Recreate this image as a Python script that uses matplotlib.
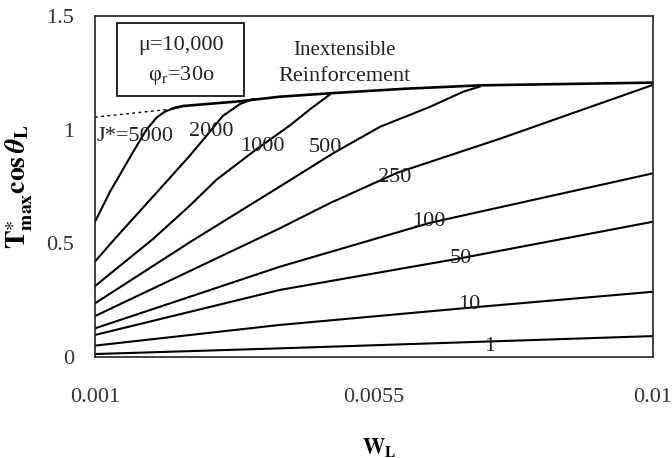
import matplotlib
matplotlib.use("Agg")
import matplotlib.pyplot as plt
from matplotlib.patches import Rectangle

plt.rcParams['font.family'] = ['Liberation Serif', 'DejaVu Serif']
plt.rcParams['mathtext.fontset'] = 'stix'

# Curves of T*max cos(theta_L) versus W_L for several stiffness values J*
x_5000 = [0.001, 0.00124, 0.00161, 0.00183, 0.00200, 0.00212, 0.00226, 0.00242]
y_5000 = [0.595, 0.726, 0.90, 1.00, 1.055, 1.078, 1.094, 1.104]

x_2000 = [0.001, 0.00132, 0.00200, 0.00253, 0.00280, 0.00306, 0.00334, 0.00355]
y_2000 = [0.42, 0.52, 0.725, 0.886, 0.974, 1.06, 1.113, 1.135]

x_1000 = [0.001, 0.00194, 0.00253, 0.00296, 0.00361, 0.00415, 0.00447, 0.00479]
y_1000 = [0.312, 0.52, 0.666, 0.78, 0.915, 1.02, 1.09, 1.155]

x_500 = [0.001, 0.00253, 0.00410, 0.00484, 0.00560, 0.00640, 0.00694, 0.00721]
y_500 = [0.236, 0.505, 0.77, 0.896, 1.013, 1.10, 1.167, 1.19]

x_250 = [0.001, 0.00398, 0.00479, 0.00587, 0.00753, 0.010]
y_250 = [0.18, 0.566, 0.677, 0.81, 0.96, 1.197]

x_100 = [0.001, 0.00253, 0.00398, 0.00640, 0.010]
y_100 = [0.126, 0.265, 0.397, 0.59, 0.808]

x_50 = [0.001, 0.00398, 0.00689, 0.010]
y_50 = [0.097, 0.295, 0.434, 0.595]

x_10 = [0.001, 0.00398, 0.00721, 0.010]
y_10 = [0.05, 0.141, 0.221, 0.287]

x_1 = [0.001, 0.00398, 0.00721, 0.010]
y_1 = [0.013, 0.038, 0.067, 0.092]

# Inextensible reinforcement envelope (dotted part, then solid)
x_inext_dot = [0.001, 0.00221]
y_inext_dot = [1.055, 1.09]
x_inext = [0.00226, 0.00242, 0.00334, 0.00398, 0.00479, 0.0060, 0.00721, 0.010]
y_inext = [1.094, 1.104, 1.125, 1.145, 1.16, 1.18, 1.195, 1.207]

curves = [(x_5000, y_5000), (x_2000, y_2000), (x_1000, y_1000), (x_500, y_500),
          (x_250, y_250), (x_100, y_100), (x_50, y_50), (x_10, y_10), (x_1, y_1)]

curve_labels = ["J*=5000", "2000", "1000", "500", "250", "100", "50", "10", "1"]
label_x = [0.00102, 0.00288, 0.00370, 0.00472, 0.00583, 0.00638, 0.00690, 0.00703, 0.00737]
label_y = [0.97, 0.99, 0.925, 0.92, 0.79, 0.595, 0.435, 0.229, 0.045]
label_ha = ["left", "center", "center", "center", "center", "center", "center", "center", "center"]

x_ticks = [0.001, 0.0055, 0.01]
x_tick_labels = ["0.001", "0.0055", "0.01"]
y_ticks = [0, 0.5, 1, 1.5]
y_tick_labels = ["0", "0.5", "1", "1.5"]

fig = plt.figure(figsize=(6.72, 4.58), dpi=100)
ax = fig.add_axes([95 / 672, 1 - 357 / 458, 558 / 672, 341 / 458])

lw = 1.5
for xs, ys in curves:
    ax.plot(xs, ys, color="black", lw=lw, solid_joinstyle="round")
ax.plot(x_inext, y_inext, color="black", lw=lw + 0.4, solid_joinstyle="round")
ax.plot(x_inext_dot, y_inext_dot, color="black", lw=1.0, linestyle=(0, (2, 2.5)))

text_color = "#222222"
for txt, lx, ly, ha in zip(curve_labels, label_x, label_y, label_ha):
    ax.text(lx, ly, txt, ha=ha, va="center", fontsize=16, color=text_color)

ax.text(0.00502, 1.35, "Inextensible", ha="center", va="center", fontsize=15, color=text_color)
ax.text(0.00502, 1.235, "Reinforcement", ha="center", va="center", fontsize=16, color=text_color)

# Parameter box
ax.add_patch(Rectangle((0.00136, 1.148), 0.00205, 0.322, fill=False,
                       edgecolor="black", lw=1.2))
ax.text(0.002385, 1.372, "μ=10,000", ha="center", va="center", fontsize=16, color=text_color)
ax.text(0.002385, 1.24, r"φ$_\mathrm{r}$=30o", ha="center", va="center", fontsize=16, color=text_color)

ax.set_xlim(0.001, 0.01)
ax.set_ylim(0, 1.5)
ax.set_xticks(x_ticks)
ax.set_xticklabels(x_tick_labels)
ax.set_yticks(y_ticks)
ax.set_yticklabels(y_tick_labels)
ax.tick_params(axis="x", length=0, pad=22, labelsize=16, labelcolor="#333333")
ax.tick_params(axis="y", length=0, pad=15, labelsize=16, labelcolor="#333333")
for sp in ax.spines.values():
    sp.set_linewidth(1.2)
    sp.set_color("#222222")

ax.set_xlabel(r"$\mathbf{W}_{\mathbf{L}}$", fontsize=16, va="center")
ax.xaxis.set_label_coords(0.51, -0.265)
ax.set_ylabel(r"$\mathbf{T}^{\ast}_{\mathbf{max}}\mathbf{cos}\,\boldsymbol{\theta}_{\mathbf{L}}$",
              fontsize=20, va="center")
ax.yaxis.set_label_coords(-0.136, 0.5)

fig.savefig("out.png", dpi=100)
